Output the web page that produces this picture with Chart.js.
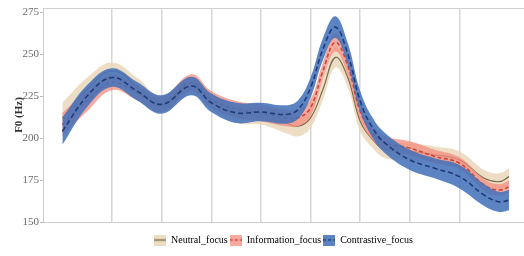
<!DOCTYPE html>
<html>
<head>
<meta charset="utf-8">
<script src="https://cdn.jsdelivr.net/npm/chart.js@4.4.1/dist/chart.umd.min.js"></script>
<style>
  html, body { margin: 0; padding: 0; background: #fff; }
  #wrap { width: 524px; height: 256px; }
</style>
</head>
<body>
<div id="wrap"><canvas id="f0Chart"></canvas></div>
<script>
// normalised time (syllable units); vertical lines sit on the syllable edges
const xPos = [0, 0.5, 1, 1.5, 2, 2.6, 3, 3.5, 4, 4.5, 4.75, 5, 5.25, 5.5, 5.75, 6, 6.25, 6.5, 7, 7.5, 8, 8.5, 8.8, 9];
const syllableEdges = [1, 2, 3, 4, 5, 6, 7, 8];
const yTicks = [150, 175, 200, 225, 250, 275];

const neutralMean = [212, 229, 240, 231, 220, 231, 222, 214, 213, 209, 207, 212, 229, 248, 236, 210, 199, 193, 192, 190, 187, 176, 174, 177];
const neutralSd   = [9, 7, 5, 5, 5, 5, 5, 5, 5, 6, 6, 6, 6, 6, 6, 6, 5, 5, 5, 5, 5, 5, 5, 5];

const infoMean = [208, 222, 233, 227, 220, 233, 223, 217, 215, 212, 212, 218, 240, 257, 243, 216, 203, 197, 194, 189, 185, 172, 169, 171];
const infoSd   = [7, 6, 4.5, 4.5, 4.5, 5, 5, 5, 5, 5, 5, 5, 5, 5.5, 5.5, 5, 4.5, 4, 4, 4, 3.5, 3.5, 3.5, 3.5];

const contrMean = [204, 225, 236, 228, 220, 231, 221, 215, 215.5, 214, 217, 230, 253, 266, 250, 222, 206, 197, 187, 182, 177, 166, 162, 163];
const contrSd   = [8, 6.5, 5.5, 5.5, 5.5, 5.5, 5.5, 6, 5.5, 5.5, 5.5, 6, 6.5, 6.5, 6.5, 6, 6, 6, 6, 6, 7, 6.5, 6, 6];

const FONT = 'Liberation Serif';

function pts(mean, sd, sign) {
  return mean.map((m, i) => ({ x: xPos[i], y: m + sign * sd[i] }));
}

function swatch(fill, line, dash) {
  const c = document.createElement('canvas');
  c.width = 12;
  c.height = 11;
  const g = c.getContext('2d');
  g.fillStyle = fill;
  g.fillRect(0, 0, 12, 11);
  g.strokeStyle = line;
  g.lineWidth = 1.5;
  g.setLineDash(dash);
  g.beginPath();
  g.moveTo(0, 5.5);
  g.lineTo(12, 5.5);
  g.stroke();
  return c;
}

const series = [
  { name: 'Neutral_focus', mean: neutralMean, sd: neutralSd, fill: 'rgba(234, 212, 182, 0.8)', line: '#7d6a4b', dash: [], order: 4 },
  { name: 'Information_focus', mean: infoMean, sd: infoSd, fill: 'rgba(243, 140, 126, 0.75)', line: '#c9473b', dash: [4, 2.5], order: 2 },
  { name: 'Contrastive_focus', mean: contrMean, sd: contrSd, fill: 'rgba(70, 114, 186, 0.88)', line: '#1d3c78', dash: [5, 3], order: 0 }
];

const datasets = [];
series.forEach(s => {
  const base = datasets.length;
  datasets.push({
    label: s.name + ' upper',
    data: pts(s.mean, s.sd, 1),
    borderWidth: 0,
    backgroundColor: s.fill,
    fill: { target: base + 1 },
    order: s.order + 1
  });
  datasets.push({
    label: s.name + ' lower',
    data: pts(s.mean, s.sd, -1),
    borderWidth: 0,
    fill: false,
    order: s.order + 1
  });
  datasets.push({
    label: s.name,
    data: pts(s.mean, s.sd, 0),
    borderColor: s.line,
    borderWidth: s.dash.length ? 1.6 : 1.2,
    borderDash: s.dash,
    fill: false,
    order: s.order
  });
});

const topBorder = {
  id: 'topBorder',
  beforeDatasetsDraw(chart) {
    const { ctx, chartArea: a } = chart;
    ctx.save();
    ctx.strokeStyle = '#cfcfcf';
    ctx.lineWidth = 1;
    ctx.beginPath();
    ctx.moveTo(a.left, a.top + 0.5);
    ctx.lineTo(a.right, a.top + 0.5);
    ctx.stroke();
    ctx.restore();
  }
};

new Chart(document.getElementById('f0Chart'), {
  type: 'line',
  data: { datasets },
  plugins: [topBorder],
  options: {
    responsive: true,
    maintainAspectRatio: false,
    animation: false,
    events: [],
    layout: { padding: { top: 8, right: 0, left: 0, bottom: 1 } },
    elements: {
      point: { radius: 0 },
      line: { tension: 0.4 }
    },
    scales: {
      x: {
        type: 'linear',
        min: -0.39,
        max: 9.3,
        afterBuildTicks: s => { s.ticks = syllableEdges.map(v => ({ value: v })); },
        afterFit: s => { s.height = 11; },
        ticks: { display: false },
        grid: { color: '#d6d6d6', lineWidth: 1.5, drawTicks: false },
        border: { display: true, color: '#cccccc' }
      },
      y: {
        min: 150,
        max: 277.4,
        afterBuildTicks: s => { s.ticks = yTicks.map(v => ({ value: v })); },
        afterFit: s => { s.width = 43; },
        ticks: { color: '#6a6a6a', padding: 1, font: { family: FONT, size: 11 } },
        grid: { drawOnChartArea: false, drawTicks: true, tickLength: 3, color: '#bbbbbb' },
        border: { display: true, color: '#cccccc' },
        title: {
          display: true,
          text: 'F0 (Hz)',
          color: '#333',
          padding: { top: 13, bottom: 0 },
          font: { family: FONT, size: 11, weight: 'bold' }
        }
      }
    },
    plugins: {
      tooltip: { enabled: false },
      legend: {
        position: 'bottom',
        fullSize: false,
        labels: {
          usePointStyle: true,
          pointStyleWidth: 12,
          boxHeight: 11,
          padding: 2,
          color: '#222',
          font: { family: FONT, size: 10 },
          generateLabels: () => series.map((s, i) => ({
            text: s.name,
            pointStyle: swatch(s.fill, s.line, s.dash.length ? [3, 2] : []),
            fillStyle: s.fill,
            strokeStyle: s.line,
            lineWidth: 0,
            hidden: false,
            datasetIndex: i * 3 + 2
          }))
        }
      }
    }
  }
});
</script>
</body>
</html>
